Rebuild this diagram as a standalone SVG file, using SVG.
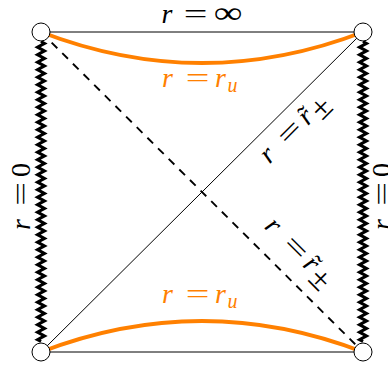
<svg xmlns="http://www.w3.org/2000/svg" xmlns:xlink="http://www.w3.org/1999/xlink" width="388" height="368" viewBox="0 0 388 368">
<style>
.t{font-family:"Liberation Serif","Times New Roman",serif;font-size:28px;fill:#000}
.i{font-style:italic}
.s{font-size:20px}
.o{fill:#ff8000}
.edge{fill:none;stroke:#000;stroke-width:1}
.dash{fill:none;stroke:#000;stroke-width:1.9;stroke-dasharray:8 7}
.zz{fill:none;stroke:#000;stroke-width:3;stroke-linejoin:miter;stroke-miterlimit:10}
.orange{fill:none;stroke:#ff8000;stroke-width:4}
.corner{fill:#fff;stroke:#000;stroke-width:1}
</style>
<defs>
<path id="zig" d="M41,41.5l3.5,1.875
l-7,3.75l7,3.75l-7,3.75l7,3.75l-7,3.75l7,3.75l-7,3.75l7,3.75l-7,3.75l7,3.75
l-7,3.75l7,3.75l-7,3.75l7,3.75l-7,3.75l7,3.75l-7,3.75l7,3.75l-7,3.75l7,3.75
l-7,3.75l7,3.75l-7,3.75l7,3.75l-7,3.75l7,3.75l-7,3.75l7,3.75l-7,3.75l7,3.75
l-7,3.75l7,3.75l-7,3.75l7,3.75l-7,3.75l7,3.75l-7,3.75l7,3.75l-7,3.75l7,3.75
l-7,3.75l7,3.75l-7,3.75l7,3.75l-7,3.75l7,3.75l-7,3.75l7,3.75l-7,3.75l7,3.75
l-7,3.75l7,3.75l-7,3.75l7,3.75l-7,3.75l7,3.75l-7,3.75l7,3.75l-7,3.75l7,3.75
l-7,3.75l7,3.75l-7,3.75l7,3.75l-7,3.75l7,3.75l-7,3.75l7,3.75l-7,3.75l7,3.75
l-7,3.75l7,3.75l-7,3.75l7,3.75l-7,3.75l7,3.75l-7,3.75l7,3.75
l-7,3.75l3.5,1.875"/>
</defs>
<g id="connectors">
<line class="edge" x1="41" y1="32" x2="363" y2="32"/>
<line class="edge" x1="41" y1="352" x2="363" y2="352"/>
<line class="edge" x1="41" y1="352" x2="363" y2="32"/>
<line class="dash" x1="41" y1="32" x2="363" y2="352"/>
<use xlink:href="#zig" class="zz"/>
<use xlink:href="#zig" class="zz" transform="translate(322,0)"/>
<path class="orange" d="M41,32Q202,94 363,32"/>
<path class="orange" d="M41,352Q202,290 363,352"/>
</g>
<g id="corner-tl"><circle class="corner" cx="41" cy="32" r="9"/></g>
<g id="corner-tr"><circle class="corner" cx="363" cy="32" r="9"/></g>
<g id="corner-bl"><circle class="corner" cx="41" cy="352" r="9"/></g>
<g id="corner-br"><circle class="corner" cx="363" cy="352" r="9"/></g>
<g id="label-inf">
<text class="t i" x="161.5" y="23">r</text>
<text class="t" transform="translate(195.5,23) scale(1.5,1)" text-anchor="middle">=</text>
<text class="t" transform="translate(228,23) scale(1.3,1)" text-anchor="middle" style="font-size:31px">∞</text>
</g>
<g id="label-ru-top">
<text class="t i o" x="162" y="87">r</text>
<text class="t o" transform="translate(197.5,87) scale(1.5,1)" text-anchor="middle">=</text>
<text class="t i o" x="215" y="87">r</text>
<text class="t i o s" x="227.5" y="92">u</text>
</g>
<g id="label-ru-bottom">
<text class="t i o" x="162" y="303">r</text>
<text class="t o" transform="translate(197.5,303) scale(1.5,1)" text-anchor="middle">=</text>
<text class="t i o" x="215" y="303">r</text>
<text class="t i o s" x="227.5" y="308">u</text>
</g>
<g id="label-r0-left" transform="translate(30,196) rotate(-90)">
<text class="t i" x="-34" y="0">r</text>
<text class="t" transform="translate(2,0) scale(1.5,1)" text-anchor="middle">=</text>
<text class="t" x="19" y="0">0</text>
</g>
<g id="label-r0-right" transform="translate(391,196) rotate(-90)">
<text class="t i" x="-34" y="0">r</text>
<text class="t" transform="translate(2,0) scale(1.5,1)" text-anchor="middle">=</text>
<text class="t" x="19" y="0">0</text>
</g>
<g id="label-rt-upper" transform="translate(300,134) rotate(-45)">
<text class="t i" x="-43" y="0">r</text>
<text class="t" transform="translate(-6,0) scale(1.5,1)" text-anchor="middle">=</text>
<text class="t i" x="11" y="0">r</text>
<text class="t" x="18" y="0" text-anchor="middle">˜</text>
<text class="t" transform="translate(24.5,6.5) scale(1.25)" style="font-size:26px">±</text>
</g>
<g id="label-rt-lower" transform="translate(294,258) rotate(45)">
<text class="t i" x="-43" y="0">r</text>
<text class="t" transform="translate(-6,0) scale(1.5,1)" text-anchor="middle">=</text>
<text class="t i" x="11" y="0">r</text>
<text class="t" x="18" y="0" text-anchor="middle">˜</text>
<text class="t" transform="translate(24.5,6.5) scale(1.25)" style="font-size:26px">±</text>
</g>
</svg>
